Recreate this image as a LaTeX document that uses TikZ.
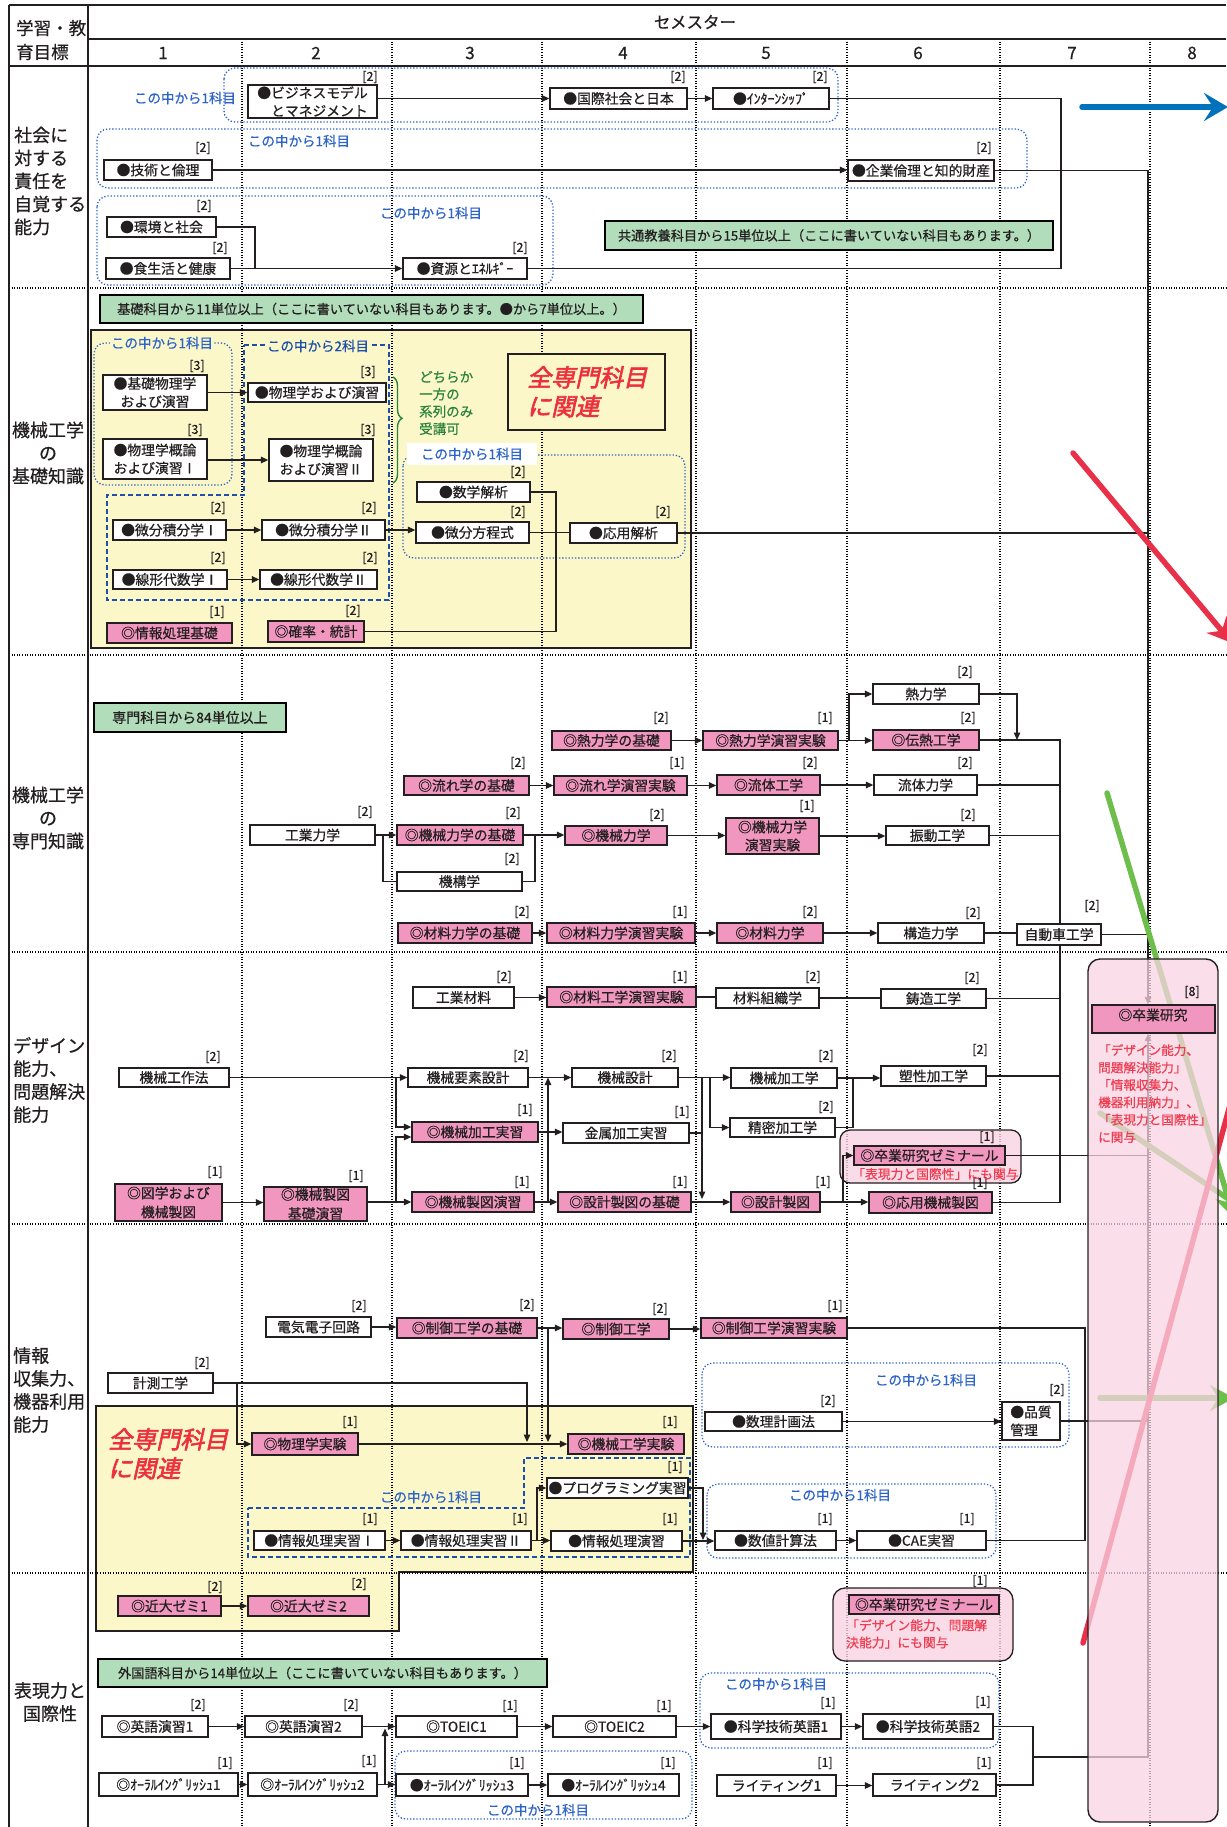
\documentclass[tikz,border=0pt]{standalone}
\usepackage{fontspec}
\setmainfont[FakeBold=0.6]{Noto Sans CJK JP}
\newfontfamily\redfont[FakeSlant=0.22,FakeBold=2.5]{Noto Sans CJK JP}
\usetikzlibrary{arrows.meta,decorations.pathreplacing}
\definecolor{dk}{RGB}{35,31,32}
\definecolor{pk}{RGB}{241,150,190}
\definecolor{pkl}{RGB}{249,212,227}
\definecolor{yl}{RGB}{251,247,201}
\definecolor{gr}{RGB}{178,221,186}
\definecolor{bl}{RGB}{45,100,200}
\definecolor{bld}{RGB}{30,80,170}
\definecolor{rd}{RGB}{236,48,60}
\definecolor{rdt}{RGB}{240,60,80}
\definecolor{grn}{RGB}{40,130,60}
\definecolor{bluA}{RGB}{0,114,188}
\definecolor{redA}{RGB}{232,48,72}
\definecolor{grnA}{RGB}{110,190,75}
\pgfdeclarelayer{bg}\pgfdeclarelayer{lines}\pgfdeclarelayer{top}
\pgfsetlayers{bg,lines,main,top}
\tikzset{
 wbox/.style={draw=dk,line width=1.3pt,fill=white,inner sep=0pt,align=center,font=\fontsize{13.8}{18}\selectfont,text=dk},
 pbox/.style={wbox,fill=pk},
 gbox/.style={draw=black,line width=2.8pt,fill=gr,inner sep=0pt,font=\fontsize{13.2}{16}\selectfont,text=dk},
 cred/.style={inner sep=0pt,font=\fontsize{12.5}{14}\selectfont,text=dk},
 conn/.style={draw=dk,line width=1.3pt},
 arr/.style={conn,-{Triangle[length=7.5pt,width=6.5pt]}},
 bdot/.style={draw=bl,line width=1.3pt,dash pattern=on 1.3pt off 1.9pt,rounded corners=11pt},
 bdash/.style={draw=bld,line width=1.8pt,dash pattern=on 5pt off 3pt},
 blbl/.style={text=bl,font=\fontsize{13.5}{16}\selectfont,inner sep=1.5pt},
 gridl/.style={draw=black,line width=1.1pt,dash pattern=on 1pt off 1.6pt},
 framel/.style={draw=dk,line width=1.6pt},
 rowlbl/.style={font=\fontsize{18}{23}\selectfont,text=dk,inner sep=0pt},
 redtxt/.style={text=rdt,font=\fontsize{12.8}{17.3}\selectfont,inner sep=0pt,align=left},
 bigred/.style={text=rd,font=\redfont\fontsize{24}{29}\selectfont,align=left,inner sep=0pt},
 bigarrow/.style={line width=5.5pt,line cap=round},
}
\newcommand\mkbox[7]{%
  \pgfmathsetmacro\mkcx{(#3+#5)/2}%
  \pgfmathsetmacro\mkcy{(#4+#6)/2}%
  \pgfmathsetmacro\mkw{#5-#3}%
  \pgfmathsetmacro\mkh{#6-#4}%
  \node[#2,minimum width=\mkw pt,minimum height=\mkh pt] (#1) at (\mkcx,\mkcy) {#7};}
\newcommand\mkcred[4]{\node[cred] (#1) at (#2,#3) {#4};}
\begin{document}
\begin{tikzpicture}[x=1pt,y=-1pt]
\useasboundingbox (0,0) rectangle (1226,1827);
% ---------- junction coordinates
\coordinate (jA) at (1061,0);
\coordinate (jS) at (1148,0);
\coordinate (jV) at (255,0);
\coordinate (jM) at (556,0);
\coordinate (jT) at (849,0);
\coordinate (jU) at (1017,0);
\coordinate (jB) at (1060,0);
\coordinate (jK) at (383,0);
\coordinate (jL) at (535,0);
\coordinate (jC) at (396,0);
\coordinate (jE) at (548,0);
\coordinate (jF) at (702,0);
\coordinate (jG) at (710,0);
\coordinate (jH) at (853,0);
\coordinate (jI) at (843,0);
\coordinate (jJ) at (1085,0);
\coordinate (jK2) at (527,0);
\coordinate (jL2) at (237,0);
\coordinate (jM2) at (537,0);
\coordinate (jN) at (703,0);
\coordinate (jO) at (385,0);
\coordinate (jP) at (1033,0);
\coordinate (jQ) at (1033,1757);
% ---------- background: panels and grid
\begin{pgfonlayer}{bg}
\fill[white] (0,0) rectangle (1226,1827);
\filldraw[fill=yl,draw=dk,line width=1.5pt] (91,330) rectangle (691,648);
\filldraw[fill=yl,draw=dk,line width=2pt] (96,1406) -- (693,1406) -- (693,1572) -- (399,1572) -- (399,1631) -- (96,1631) -- cycle;
\foreach \xx in {242,392,542,696,847,1000,1150} {\draw[gridl] (\xx,39) -- (\xx,1827);}
\foreach \yy in {288,655,952,1224,1573} {\draw[gridl] (9,\yy) -- (1226,\yy);}
\draw[framel] (9,5) -- (1226,5);
\draw[framel] (9,5) -- (9,1827);
\draw[framel] (88,5) -- (88,1827);
\draw[framel] (88,39) -- (1226,39);
\draw[framel] (9,66) -- (1226,66);
\filldraw[fill=pkl,fill opacity=0.8,draw=dk,line width=1.3pt,rounded corners=10pt] (840,1130) rectangle (1021,1183);
\filldraw[fill=pkl,fill opacity=0.8,draw=dk,line width=1.3pt,rounded corners=12pt] (833,1588) rectangle (1013,1661);
\end{pgfonlayer}
% ---------- top layer: graduation research panel
\begin{pgfonlayer}{top}
\fill[pkl,fill opacity=0.75,rounded corners=12pt] (1088,959) rectangle (1218,1822);
\draw[dk,line width=1.4pt,rounded corners=12pt] (1088,959) rectangle (1218,1822);
\mkbox{sotsu}{pbox}{1092}{1005}{1215}{1033}{}
\node[font=\fontsize{13.8}{16}\selectfont,text=dk,inner sep=0pt] (sotsu-t) at (1153,1015) {◎卒業研究};
\mkcred{sotsu-c}{1192}{992}{[8]}
\node[redtxt,anchor=north west,font=\fontsize{12.6}{17.4}\selectfont] (sotsu-r) at (1098,1044) {「デザイン能力、\\問題解決能力」\\「情報収集力、\\機器利用納力」、\\「表現力と国際性」\\に関与};
\end{pgfonlayer}
% ---------- header
\node[rowlbl,align=left,anchor=west,font=\fontsize{17.5}{24}\selectfont] (hdr) at (16,40) {学習・教\\育目標};
\node[font=\fontsize{16.5}{18}\selectfont,text=dk] (sem) at (695,22) {セメスター};
\foreach \xx/\nn in {163/1,316/2,470/3,623/4,766/5,918/6,1072/7,1192/8} {\node[font=\fontsize{17}{19}\selectfont,text=dk] (sem\nn) at (\xx,53) {\nn};}
% ---------- row labels
\node[rowlbl,align=left,anchor=west] (r1) at (14,181) {社会に\\対する\\責任を\\自覚する\\能力};
\node[rowlbl,align=center] (r2) at (48,453) {機械工学\\の\\基礎知識};
\node[rowlbl,align=center] (r3) at (48,818) {機械工学\\の\\専門知識};
\node[rowlbl,align=left,anchor=west] (r4) at (13,1080) {デザイン\\能力、\\問題解決\\能力};
\node[rowlbl,align=left,anchor=west] (r5) at (13,1390) {情報\\収集力、\\機器利用\\能力};
\node[rowlbl,align=center] (r6) at (50,1702) {表現力と\\国際性};
% ================= ROW 1
\mkbox{biz}{wbox,align=right}{248}{85}{377}{118}{●ビジネスモデル\\とマネジメント}
\mkcred{biz-c}{370}{77}{[2]}
\mkbox{kokusai}{wbox}{550}{88}{687}{109}{●国際社会と日本}
\mkcred{kokusai-c}{678}{77}{[2]}
\mkbox{intern}{wbox}{713}{88}{829}{109}{●ｲﾝﾀｰﾝｼｯﾌﾟ}
\mkcred{intern-c}{820}{77}{[2]}
\mkbox{gijutsu}{wbox}{104}{160}{212}{180}{●技術と倫理}
\mkcred{gijutsu-c}{203}{148}{[2]}
\mkbox{kigyo}{wbox}{848}{160}{994}{181}{●企業倫理と知的財産}
\mkcred{kigyo-c}{984}{148}{[2]}
\mkbox{kankyo}{wbox}{107}{217}{216}{237}{●環境と社会}
\mkcred{kankyo-c}{204}{206}{[2]}
\mkbox{shoku}{wbox}{106}{258}{230}{279}{●食生活と健康}
\mkcred{shoku-c}{220}{248}{[2]}
\mkbox{shigen}{wbox}{403}{258}{527}{279}{●資源とｴﾈﾙｷﾞｰ}
\mkcred{shigen-c}{520}{248}{[2]}
\mkbox{kyotsu}{gbox}{605}{221}{1053}{250}{共通教養科目から15単位以上（ここに書いていない科目もあります。）}
\begin{pgfonlayer}{lines}
\draw[bdot] (224,68) rectangle (838,122);
\draw[bdot] (97,129) rectangle (1027,188);
\draw[bdot] (97,196) rectangle (553,285);
\end{pgfonlayer}
\node[blbl] (l1) at (185,98) {この中から1科目};
\node[blbl] (l2) at (299,141) {この中から1科目};
\node[blbl] (l3) at (431,213) {この中から1科目};
% ================= ROW 2
\mkbox{kiso}{gbox}{100}{295}{643}{323}{基礎科目から11単位以上（ここに書いていない科目もあります。●から7単位以上。）}
\mkbox{zenbox}{draw=dk,line width=1.5pt,fill=yl,inner sep=0pt}{508}{354}{665}{430}{}
\node[bigred,anchor=north west] (zentxt) at (527,366) {全専門科目\\に関連};
\begin{pgfonlayer}{lines}
\draw[bdot] (94,343) rectangle (232,485);
\draw[bdash] (244,345) -- (389,345) -- (389,600) -- (107,600) -- (107,495) -- (244,495) -- cycle;
\draw[bdot] (403,455) rectangle (685,558);
\end{pgfonlayer}
\node[blbl,fill=yl] (l4) at (162,343) {この中から1科目};
\node[blbl,fill=yl,text=bld] (l5) at (318,346) {この中から2科目};
\node[blbl,fill=white,minimum width=130pt,minimum height=22pt] (l6) at (472,454) {この中から1科目};
\draw[grn,line width=1.4pt,decorate,decoration={brace,amplitude=9pt,aspect=0.39}] (393,377) -- (393,483);
\node[text=grn,font=\fontsize{13.5}{17.3}\selectfont,align=left,anchor=west,inner sep=0pt] (dochira) at (419,403) {どちらか\\一方の\\系列のみ\\受講可};
\mkbox{kbutsuri}{wbox}{103}{375}{207}{410}{●基礎物理学\\および演習}
\mkcred{kbutsuri-c}{197}{366}{[3]}
\mkbox{butsuri}{wbox}{248}{383}{386}{402}{●物理学および演習}
\mkcred{butsuri-c}{368}{372}{[3]}
\mkbox{gairon1}{wbox}{103}{439}{207}{479}{●物理学概論\\および演習Ⅰ}
\mkcred{gairon1-c}{195}{430}{[3]}
\mkbox{gairon2}{wbox}{269}{439}{373}{481}{●物理学概論\\および演習Ⅱ}
\mkcred{gairon2-c}{368}{430}{[3]}
\mkbox{sugaku}{wbox}{417}{482}{530}{502}{●数学解析}
\mkcred{sugaku-c}{518}{472}{[2]}
\mkbox{bibun}{wbox}{416}{522}{529}{543}{●微分方程式}
\mkcred{bibun-c}{518}{512}{[2]}
\mkbox{oyo}{wbox}{570}{523}{677}{543}{●応用解析}
\mkcred{oyo-c}{663}{512}{[2]}
\mkbox{sekibun1}{wbox}{113}{520}{226}{540}{●微分積分学Ⅰ}
\mkcred{sekibun1-c}{218}{508}{[2]}
\mkbox{sekibun2}{wbox}{262}{520}{385}{540}{●微分積分学Ⅱ}
\mkcred{sekibun2-c}{369}{508}{[2]}
\mkbox{senkei1}{wbox}{113}{570}{227}{589}{●線形代数学Ⅰ}
\mkcred{senkei1-c}{218}{558}{[2]}
\mkbox{senkei2}{wbox}{260}{570}{377}{589}{●線形代数学Ⅱ}
\mkcred{senkei2-c}{370}{558}{[2]}
\mkbox{joho}{pbox}{107}{623}{232}{643}{◎情報処理基礎}
\mkcred{joho-c}{217}{612}{[1]}
\mkbox{kakuritsu}{pbox}{268}{621}{364}{642}{◎確率・統計}
\mkcred{kakuritsu-c}{353}{611}{[2]}
% ================= ROW 3
\mkbox{senmon}{gbox,font=\fontsize{14}{16}\selectfont}{94}{703}{286}{732}{専門科目から84単位以上}
\mkbox{netsukiso}{pbox}{552}{731}{671}{750}{◎熱力学の基礎}
\mkcred{netsukiso-c}{661}{718}{[2]}
\mkbox{netsuen}{pbox}{703}{731}{838}{750}{◎熱力学演習実験}
\mkcred{netsuen-c}{825}{718}{[1]}
\mkbox{netsu}{wbox}{873}{684}{979}{704}{熱力学}
\mkcred{netsu-c}{965}{672}{[2]}
\mkbox{dennetsu}{pbox}{873}{730}{979}{750}{◎伝熱工学}
\mkcred{dennetsu-c}{968}{718}{[2]}
\mkbox{nagare}{pbox}{404}{776}{529}{795}{◎流れ学の基礎}
\mkcred{nagare-c}{518}{763}{[2]}
\mkbox{nagareen}{pbox}{554}{776}{687}{795}{◎流れ学演習実験}
\mkcred{nagareen-c}{677}{763}{[1]}
\mkbox{ryutaiko}{pbox}{717}{775}{820}{795}{◎流体工学}
\mkcred{ryutaiko-c}{810}{763}{[2]}
\mkbox{ryutairiki}{wbox}{874}{775}{977}{795}{流体力学}
\mkcred{ryutairiki-c}{965}{763}{[2]}
\mkbox{kogyo}{wbox}{250}{825}{375}{845}{工業力学}
\mkcred{kogyo-c}{365}{812}{[2]}
\mkbox{kikaikiso}{pbox}{397}{825}{523}{845}{◎機械力学の基礎}
\mkcred{kikaikiso-c}{513}{813}{[2]}
\mkbox{kiko}{wbox}{397}{872}{522}{891}{機構学}
\mkcred{kiko-c}{512}{859}{[2]}
\mkbox{kikairiki}{pbox}{565}{826}{667}{845}{◎機械力学}
\mkcred{kikairiki-c}{657}{815}{[2]}
\mkbox{kikaien}{pbox}{726}{818}{819}{854}{◎機械力学\\演習実験}
\mkcred{kikaien-c}{807}{806}{[1]}
\mkbox{shindo}{wbox}{886}{826}{989}{845}{振動工学}
\mkcred{shindo-c}{968}{815}{[2]}
\mkbox{zaikiso}{pbox}{398}{923}{532}{943}{◎材料力学の基礎}
\mkcred{zaikiso-c}{522}{912}{[2]}
\mkbox{zaien}{pbox}{547}{923}{695}{943}{◎材料力学演習実験}
\mkcred{zaien-c}{680}{912}{[1]}
\mkbox{zairiki}{pbox}{717}{923}{823}{943}{◎材料力学}
\mkcred{zairiki-c}{810}{912}{[2]}
\mkbox{kozo}{wbox}{878}{923}{984}{943}{構造力学}
\mkcred{kozo-c}{973}{913}{[2]}
\mkbox{jidosha}{wbox}{1017}{924}{1101}{945}{自動車工学}
\mkcred{jidosha-c}{1092}{906}{[2]}
% ================= ROW 4
\mkbox{kozai}{wbox}{413}{987}{514}{1008}{工業材料}
\mkcred{kozai-c}{504}{977}{[2]}
\mkbox{zaikoen}{pbox}{547}{987}{696}{1007}{◎材料工学演習実験}
\mkcred{zaikoen-c}{680}{977}{[1]}
\mkbox{soshiki}{wbox}{716}{988}{819}{1008}{材料組織学}
\mkcred{soshiki-c}{813}{977}{[2]}
\mkbox{chuzo}{wbox}{881}{989}{986}{1008}{鋳造工学}
\mkcred{chuzo-c}{972}{978}{[2]}
\mkbox{kosaku}{wbox}{119}{1068}{229}{1087}{機械工作法}
\mkcred{kosaku-c}{213}{1057}{[2]}
\mkbox{yoso}{wbox}{408}{1068}{528}{1087}{機械要素設計}
\mkcred{yoso-c}{521}{1056}{[2]}
\mkbox{sekkei}{wbox}{572}{1068}{678}{1087}{機械設計}
\mkcred{sekkei-c}{669}{1056}{[2]}
\mkbox{kakoko}{wbox}{731}{1068}{837}{1088}{機械加工学}
\mkcred{kakoko-c}{826}{1056}{[2]}
\mkbox{sosei}{wbox}{881}{1066}{986}{1086}{塑性加工学}
\mkcred{sosei-c}{980}{1050}{[2]}
\mkbox{seimitsu}{wbox}{730}{1118}{835}{1137}{精密加工学}
\mkcred{seimitsu-c}{826}{1107}{[2]}
\mkbox{kakojisshu}{pbox}{412}{1122}{538}{1142}{◎機械加工実習}
\mkcred{kakojisshu-c}{525}{1110}{[1]}
\mkbox{kinzoku}{wbox}{563}{1123}{689}{1143}{金属加工実習}
\mkcred{kinzoku-c}{682}{1112}{[1]}
\mkbox{zugaku}{pbox,font=\fontsize{13.8}{19}\selectfont}{115}{1184}{222}{1221}{◎図学および\\機械製図}
\mkcred{zugaku-c}{215}{1172}{[1]}
\mkbox{seizukiso}{pbox,font=\fontsize{13.8}{19}\selectfont}{264}{1187}{367}{1221}{◎機械製図\\基礎演習}
\mkcred{seizukiso-c}{356}{1176}{[1]}
\mkbox{seizuen}{pbox}{412}{1192}{534}{1212}{◎機械製図演習}
\mkcred{seizuen-c}{522}{1182}{[1]}
\mkbox{sekkeikiso}{pbox}{558}{1192}{691}{1212}{◎設計製図の基礎}
\mkcred{sekkeikiso-c}{680}{1182}{[1]}
\mkbox{sekkeiseizu}{pbox}{731}{1192}{820}{1212}{◎設計製図}
\mkcred{sekkeiseizu-c}{823}{1182}{[1]}
\mkbox{oyoseizu}{pbox}{869}{1192}{992}{1213}{◎応用機械製図}
\mkcred{oyoseizu-c}{980}{1183}{[1]}
\mkbox{zemi1}{pbox}{854}{1146}{1005}{1165}{◎卒業研究ゼミナール}
\mkcred{zemi1-c}{987}{1137}{[1]}
\node[redtxt,anchor=west] (zemi1-r) at (852,1174) {「表現力と国際性」にも関与};
% ================= ROW 5
\mkbox{denki}{wbox}{266}{1317}{371}{1337}{電気電子回路}
\mkcred{denki-c}{359}{1306}{[2]}
\mkbox{seigyokiso}{pbox}{397}{1318}{537}{1338}{◎制御工学の基礎}
\mkcred{seigyokiso-c}{527}{1305}{[2]}
\mkbox{seigyo}{pbox}{563}{1319}{669}{1339}{◎制御工学}
\mkcred{seigyo-c}{660}{1309}{[2]}
\mkbox{seigyoen}{pbox}{701}{1318}{847}{1338}{◎制御工学演習実験}
\mkcred{seigyoen-c}{835}{1306}{[1]}
\mkbox{keisoku}{wbox}{108}{1373}{213}{1393}{計測工学}
\mkcred{keisoku-c}{202}{1363}{[2]}
\node[bigred,anchor=north west] (zentxt2) at (108,1428) {全専門科目\\に関連};
\mkbox{butsurijikken}{pbox}{252}{1433}{358}{1455}{◎物理学実験}
\mkcred{butsurijikken-c}{350}{1422}{[1]}
\mkbox{kikaijikken}{pbox}{568}{1434}{684}{1454}{◎機械工学実験}
\mkcred{kikaijikken-c}{670}{1422}{[1]}
\mkbox{program}{wbox}{547}{1478}{688}{1498}{●プログラミング実習}
\mkcred{program-c}{675}{1467}{[1]}
\mkbox{jisshu1}{wbox}{254}{1531}{385}{1550}{●情報処理実習Ⅰ}
\mkcred{jisshu1-c}{370}{1519}{[1]}
\mkbox{jisshu2}{wbox}{401}{1531}{531}{1550}{●情報処理実習Ⅱ}
\mkcred{jisshu2-c}{520}{1519}{[1]}
\mkbox{enshu}{wbox}{551}{1531}{682}{1551}{●情報処理演習}
\mkcred{enshu-c}{670}{1519}{[1]}
\mkbox{suchi}{wbox}{715}{1531}{836}{1550}{●数値計算法}
\mkcred{suchi-c}{825}{1519}{[1]}
\mkbox{cae}{wbox}{857}{1531}{986}{1550}{●CAE実習}
\mkcred{cae-c}{967}{1519}{[1]}
\mkbox{suri}{wbox}{705}{1412}{842}{1431}{●数理計画法}
\mkcred{suri-c}{828}{1401}{[2]}
\mkbox{hinshitsu}{wbox,align=left}{1002}{1402}{1060}{1440}{●品質\\管理}
\mkcred{hinshitsu-c}{1057}{1390}{[2]}
\begin{pgfonlayer}{lines}
\draw[bdash] (248,1508) -- (524,1508) -- (524,1458) -- (690,1458) -- (690,1557) -- (248,1557) -- cycle;
\draw[bdot] (707,1484) rectangle (996,1558);
\draw[bdot] (702,1363) rectangle (1069,1447);
\draw[bdot] (700,1673) rectangle (999,1748);
\draw[bdot] (395,1751) rectangle (692,1819);
\end{pgfonlayer}
\node[blbl] (l7) at (431,1497) {この中から1科目};
\node[blbl] (l8) at (840,1495) {この中から1科目};
\node[blbl] (l9) at (926,1380) {この中から1科目};
% ================= ROW 6
\mkbox{zemi21}{pbox}{118}{1596}{221}{1616}{◎近大ゼミ1}
\mkcred{zemi21-c}{215}{1587}{[2]}
\mkbox{zemi22}{pbox}{248}{1596}{369}{1616}{◎近大ゼミ2}
\mkcred{zemi22-c}{359}{1584}{[2]}
\mkbox{zemi2}{pbox}{849}{1595}{999}{1614}{◎卒業研究ゼミナール}
\mkcred{zemi2-c}{980}{1581}{[1]}
\node[redtxt,anchor=north west] (zemi2-r) at (846,1619) {「デザイン能力、問題解\\決能力」にも関与};
\mkbox{gaikoku}{gbox}{98}{1659}{547}{1687}{外国語科目から14単位以上（ここに書いていない科目もあります。）}
\mkbox{eigo1}{wbox}{102}{1716}{208}{1737}{◎英語演習1}
\mkcred{eigo1-c}{198}{1705}{[2]}
\mkbox{eigo2}{wbox}{245}{1716}{362}{1737}{◎英語演習2}
\mkcred{eigo2-c}{351}{1705}{[2]}
\mkbox{toeic1}{wbox}{396}{1716}{517}{1737}{◎TOEIC1}
\mkcred{toeic1-c}{510}{1706}{[1]}
\mkbox{toeic2}{wbox}{553}{1716}{676}{1737}{◎TOEIC2}
\mkcred{toeic2-c}{664}{1706}{[1]}
\mkbox{kagaku1}{wbox}{711}{1714}{841}{1739}{●科学技術英語1}
\mkcred{kagaku1-c}{828}{1703}{[1]}
\mkbox{kagaku2}{wbox}{863}{1714}{993}{1739}{●科学技術英語2}
\mkcred{kagaku2-c}{983}{1702}{[1]}
\mkbox{oral1}{wbox}{99}{1773}{238}{1796}{◎ｵｰﾗﾙｲﾝｸﾞﾘｯｼｭ1}
\mkcred{oral1-c}{225}{1763}{[1]}
\mkbox{oral2}{wbox}{248}{1773}{377}{1796}{◎ｵｰﾗﾙｲﾝｸﾞﾘｯｼｭ2}
\mkcred{oral2-c}{369}{1761}{[1]}
\mkbox{oral3}{wbox}{396}{1774}{528}{1796}{●ｵｰﾗﾙｲﾝｸﾞﾘｯｼｭ3}
\mkcred{oral3-c}{517}{1763}{[1]}
\mkbox{oral4}{wbox}{548}{1774}{679}{1796}{●ｵｰﾗﾙｲﾝｸﾞﾘｯｼｭ4}
\mkcred{oral4-c}{668}{1763}{[1]}
\mkbox{writing1}{wbox}{717}{1775}{836}{1796}{ライティング1}
\mkcred{writing1-c}{825}{1763}{[1]}
\mkbox{writing2}{wbox}{873}{1774}{996}{1796}{ライティング2}
\mkcred{writing2-c}{984}{1763}{[1]}
\node[blbl] (l10) at (776,1684) {この中から1科目};
\node[blbl] (l11) at (538,1810) {この中から1科目};
% ================= CONNECTORS
\begin{pgfonlayer}{lines}
% row 1
\draw[arr] (biz.east |- kokusai.west) -- (kokusai.west);
\draw[arr] (kokusai.east) -- (intern.west);
\draw[conn] (intern.east) -| (jA |- shigen.east) -- (shigen.east);
\draw[arr] (gijutsu.east) -- (gijutsu.east -| kigyo.west);
\draw[arr] (kigyo.east) -| (jS |- sotsu.north);
\draw[conn] (kankyo.east) -| (jV |- shoku.east);
\draw[arr] (shoku.east) -- (shigen.west);
% row 2
\draw[arr] (kbutsuri.east |- butsuri.west) -- (butsuri.west);
\draw[arr] (gairon1.east |- gairon2.west) -- (gairon2.west);
\draw[arr] (sekibun1.east) -- (sekibun2.west);
\draw[arr] (sekibun2.east) -- (sekibun2.east -| bibun.west);
\draw[arr] (senkei1.east) -- (senkei2.west);
\draw[conn] (sugaku.east) -| (jM |- kakuritsu.east) -- (kakuritsu.east);
\draw[conn] (bibun.east) -- (bibun.east -| oyo.west);
\draw[conn] (oyo.east) -- (jS |- oyo.east);
% row 3
\draw[arr] (netsukiso.east) -- (netsuen.west);
\draw[arr] (netsuen.east) -- (netsuen.east -| dennetsu.west);
\draw[arr] (jT |- netsuen.east) |- (netsu.west);
\draw[arr] (netsu.east) -| (jU |- dennetsu.east);
\draw[conn] (dennetsu.east) -| (jB |- jidosha.north);
\draw[conn] (ryutairiki.east) -- (jB |- ryutairiki.east);
\draw[conn] (shindo.east) -- (jB |- shindo.east);
\draw[arr] (nagare.east) -- (nagareen.west);
\draw[arr] (nagareen.east) -- (nagareen.east -| ryutaiko.west);
\draw[arr] (ryutaiko.east) -- (ryutaiko.east -| ryutairiki.west);
\draw[arr] (kogyo.east) -- (kikaikiso.west);
\draw[conn] (jK |- kogyo.east) |- (kiko.west);
\draw[arr] (kikaikiso.east) -- (kikaikiso.east -| kikairiki.west);
\draw[conn] (kiko.east) -| (jL |- kikaikiso.east);
\draw[arr] (kikairiki.east) -- (kikairiki.east -| kikaien.west);
\draw[arr] (kikaien.east) -- (kikaien.east -| shindo.west);
\draw[arr] (zaikiso.east) -- (zaien.west);
\draw[arr] (zaien.east) -- (zairiki.west);
\draw[arr] (zairiki.east) -- (kozo.west);
\draw[conn] (kozo.east) -- (kozo.east -| jidosha.west);
\draw[conn] (jidosha.east) -- (jS |- jidosha.east);
% row 4
\draw[arr] (kozai.east) -- (kozai.east -| zaikoen.west);
\draw[conn] (zaikoen.east) -- (zaikoen.east -| soshiki.west);
\draw[conn] (soshiki.east) -- (soshiki.east -| chuzo.west);
\draw[conn] (chuzo.east) -- (jB |- chuzo.east);
\draw[arr] (kosaku.east) -- (yoso.west);
\draw[arr] (jC |- kosaku.east) |- ([yshift=5pt]kakojisshu.west);
\draw[arr] (seizukiso.east |- seizuen.west) -- (seizuen.west);
\draw[arr] (jC |- seizuen.west) |- ([yshift=-5pt]kakojisshu.west);
\draw[arr] (zugaku.east) -- (zugaku.east -| seizukiso.west);
\draw[arr] (yoso.east) -- (sekkei.west);
\draw[arr] (seizuen.east) -- (seizuen.east -| sekkeikiso.west);
\draw[arr] (jE |- seizuen.east) -- (jE |- yoso.east);
\draw[arr] (kakojisshu.east) -- (kakojisshu.east -| kinzoku.west);
\draw[arr,shorten >=3pt] (sekkei.east) -| (jF |- sekkeikiso.east);
\draw[conn] (kinzoku.east) -- (jF |- kinzoku.east);
\draw[arr] (sekkei.east) -- (sekkei.east -| kakoko.west);
\draw[arr] (jG |- sekkei.east) |- (seimitsu.west);
\draw[arr] (sekkeikiso.east) -- (sekkeikiso.east -| sekkeiseizu.west);
\draw[arr] (kakoko.east) -- (kakoko.east -| sosei.west);
\draw[conn] (seimitsu.east) -| (jH |- kakoko.east);
\draw[conn] (sosei.east) -- (jB |- sosei.east);
\draw[arr] (sekkeiseizu.east) -- (sekkeiseizu.east -| oyoseizu.west);
\draw[arr] (jI |- sekkeiseizu.east) |- (zemi1.west);
\draw[conn] (oyoseizu.east) -| (jB |- jidosha.south);
\draw[conn] (zemi1.east) -- (jS |- zemi1.east);
% row 5
\draw[arr] (denki.east) -- (denki.east -| seigyokiso.west);
\draw[arr] (seigyokiso.east) -- (seigyokiso.east -| seigyo.west);
\draw[arr,shorten >=2pt] (jE |- seigyokiso.east) -- (jE |- kikaijikken.west);
\draw[arr] (seigyo.east) -- (seigyo.east -| seigyoen.west);
\draw[conn] (seigyoen.east) -| (jJ |- cae.east) -- (cae.east);
\draw[arr,shorten >=2pt] (keisoku.east) -| (jK2 |- kikaijikken.west);
\draw[arr] (jL2 |- keisoku.east) |- (butsurijikken.west);
\draw[arr] (butsurijikken.east) -- (kikaijikken.west);
\draw[arr] (jisshu1.east) -- (jisshu2.west);
\draw[arr] (jisshu2.east) -- (jisshu2.east -| enshu.west);
\draw[arr] (jM2 |- jisshu2.east) |- (program.west);
\draw[arr,shorten >=1pt] (program.east) -| (jN |- enshu.east);
\draw[arr] (enshu.east) -- (enshu.east -| suchi.west);
\draw[arr] (suchi.east) -- (suchi.east -| cae.west);
\draw[arr] (suri.east) -- (suri.east -| hinshitsu.west);
\draw[conn] (hinshitsu.east) -- (jS |- hinshitsu.east);
% row 6
\draw[arr] (zemi21.east) -- (zemi22.west);
\draw[arr] (eigo1.east) -- (eigo2.west);
\draw[arr] (eigo2.east) -- (toeic1.west);
\draw[arr] (toeic1.east) -- (toeic2.west);
\draw[arr] (toeic2.east) -- (toeic2.east -| kagaku1.west);
\draw[arr] (kagaku1.east) -- (kagaku2.west);
\draw[arr] (oral1.east) -- (oral1.east -| oral2.west);
\draw[arr] (oral2.east) -- (oral2.east -| oral3.west);
\draw[arr,shorten >=2pt] (jO |- oral2.east) -- (jO |- eigo2.east);
\draw[arr] (oral3.east) -- (oral3.east -| oral4.west);
\draw[arr] (writing1.east) -- (writing1.east -| writing2.west);
\draw[conn] (kagaku2.east) -| (jP |- writing2.east) -- (writing2.east);
\draw[arr] (jQ) -| (jS |- sotsu.south);
\end{pgfonlayer}
% ================= big coloured arrows
\draw[bluA,bigarrow,-{Stealth[length=24pt,width=28pt,inset=9pt]}] (1082,107) -- (1228,107);
\draw[redA,bigarrow,-{Stealth[length=24pt,width=26pt,inset=8pt]}] (1073,453) -- (1232,643);
\draw[grnA,bigarrow,-{Stealth[length=24pt,width=26pt,inset=8pt]}] (1107,793) -- (1234,1218);
\draw[grnA,bigarrow] (1100,1113) -- (1230,1200);
\draw[grnA,bigarrow,-{Stealth[length=24pt,width=26pt,inset=8pt]}] (1100,1398) -- (1234,1398);
\draw[redA,bigarrow] (1083,1643) -- (1230,1105);
\end{tikzpicture}
\end{document}
